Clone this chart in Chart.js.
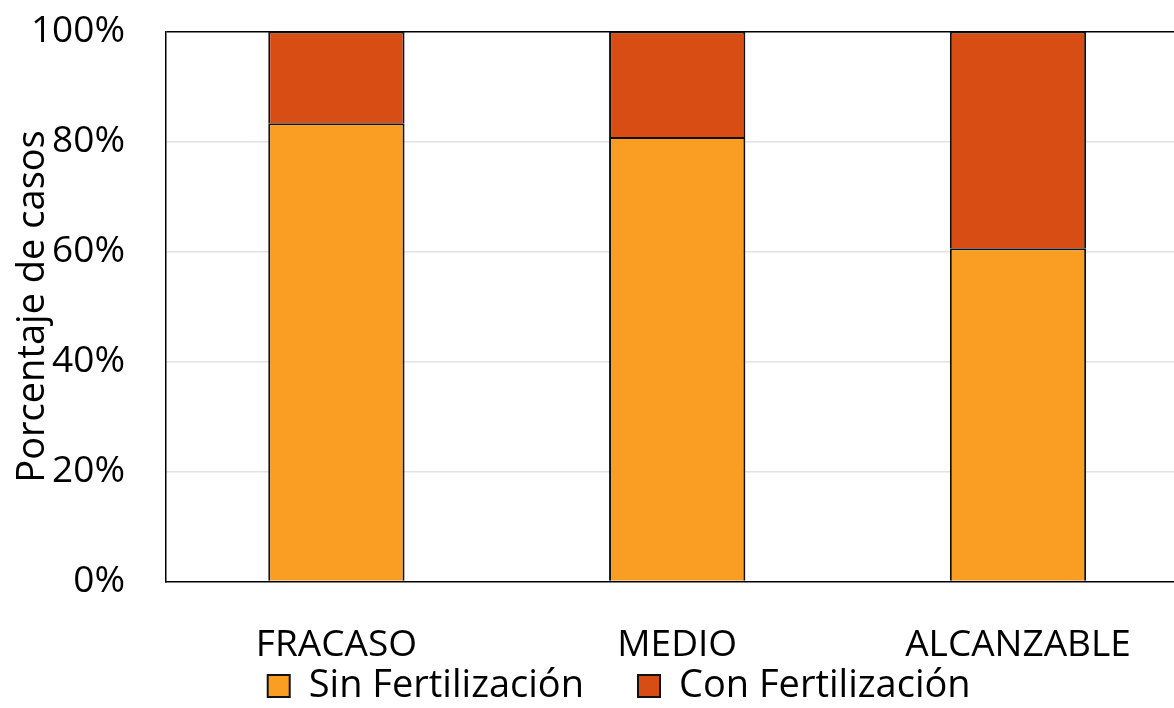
<!DOCTYPE html>
<html>
<head>
<meta charset="utf-8">
<script src="https://cdn.jsdelivr.net/npm/chart.js@4.4.1/dist/chart.umd.min.js"></script>
<style>
  html, body { margin: 0; padding: 0; background: #fff; overflow: hidden; }
  #wrap { position: absolute; left: 0; top: 0; width: 1174px; height: 708px; overflow: hidden; }
  canvas { display: block; }
</style>
</head>
<body>
<div id="wrap"><canvas id="c" width="1190" height="708" style="width:1190px;height:708px"></canvas></div>
<script>
// Share of cases (%) by outcome group
const categories = ['FRACASO', 'MEDIO', 'ALCANZABLE'];
const sinFertilizacion = [83.3, 80.8, 60.6];
const conFertilizacion = [16.7, 19.2, 39.4];
const yTicks = [0, 20, 40, 60, 80, 100];

const FONT = "'Open Sans', 'Noto Sans', sans-serif";

// Moves the legend row closer to the category labels and centres it on the full figure width
const legendPlacement = {
  id: 'legendPlacement',
  afterLayout(chart) {
    const lg = chart.legend;
    if (!lg) return;
    const dy = (chart.chartArea.bottom + 31.5) - lg.top;
    lg.top += dy; lg.bottom += dy;
    lg.left += 25; lg.right += 25;
  }
};

new Chart(document.getElementById('c'), {
  type: 'bar',
  data: {
    labels: categories,
    datasets: [
      {
        label: 'Sin Fertilización',
        data: sinFertilizacion,
        backgroundColor: '#F99E22',
        borderColor: '#111',
        borderWidth: 2,
        barPercentage: 0.4,
        categoryPercentage: 1.0
      },
      {
        label: 'Con Fertilización',
        data: conFertilizacion,
        backgroundColor: '#D84D13',
        borderColor: '#111',
        borderWidth: 2,
        barPercentage: 0.4,
        categoryPercentage: 1.0
      }
    ]
  },
  plugins: [legendPlacement],
  options: {
    responsive: false,
    animation: false,
    devicePixelRatio: 1,
    layout: { padding: { left: 0, right: 1.6, top: 31.5, bottom: -55.5 } },
    plugins: {
      tooltip: { enabled: false },
      legend: {
        position: 'bottom',
        labels: {
          font: { family: FONT, size: 38 },
          color: '#000',
          boxWidth: 22,
          boxHeight: 22,
          padding: 54
        }
      }
    },
    scales: {
      x: {
        stacked: true,
        grid: { display: false },
        border: { display: true, color: '#000', width: 1.5 },
        ticks: {
          font: { family: FONT, size: 37 },
          color: '#000',
          padding: 34,
          maxRotation: 0
        },
        afterFit: s => { s.height = 80; s.paddingLeft = 0; s.paddingRight = 0; }
      },
      y: {
        stacked: true,
        min: 0,
        max: 100,
        afterBuildTicks: s => { s.ticks = yTicks.map(v => ({ value: v })); },
        grid: {
          drawTicks: false,
          color: c => c.tick && c.tick.value === 100 ? '#000' : (c.tick && c.tick.value === 0 ? 'rgba(0,0,0,0)' : '#e2e2e2'),
          lineWidth: 1.5
        },
        border: { display: true, color: '#000', width: 1.5 },
        ticks: {
          font: { family: FONT, size: 37 },
          color: '#000',
          padding: 41,
          callback: v => v + '%'
        },
        title: {
          display: true,
          text: 'Porcentaje de casos',
          font: { family: FONT, size: 38 },
          color: '#000',
          padding: { top: 10, bottom: 0 }
        },
        afterFit: s => { s.width = 166; s.paddingTop = 0; s.paddingBottom = 0; }
      }
    }
  }
});
</script>
</body>
</html>
